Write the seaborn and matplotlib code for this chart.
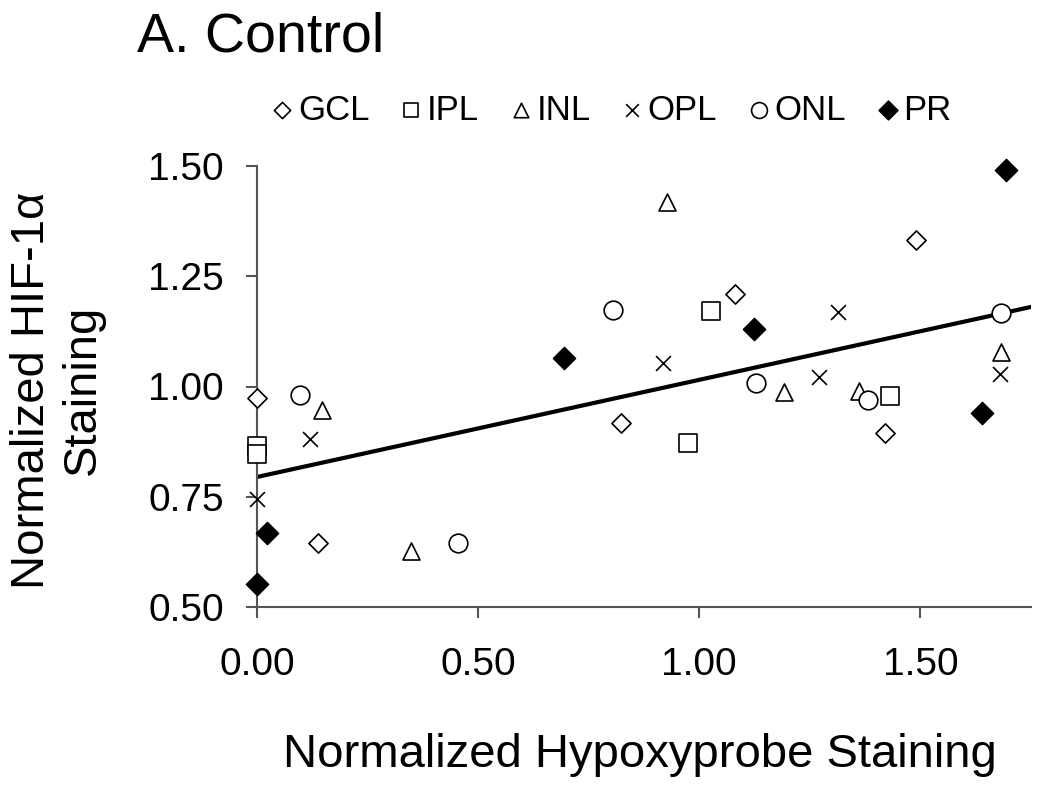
import matplotlib
matplotlib.use("Agg")
import matplotlib.pyplot as plt
import numpy as np
import pandas as pd
import seaborn as sns

# values, one list per retinal layer
layers = ["GCL", "IPL", "INL", "OPL", "ONL", "PR"]
gcl_x = [0.0, 0.137, 0.823, 1.081, 1.489, 1.421]
gcl_y = [0.973, 0.644, 0.917, 1.210, 1.332, 0.894]
ipl_x = [0.0, 0.0, 0.974, 1.027, 1.431]
ipl_y = [0.864, 0.846, 0.873, 1.171, 0.979]
inl_x = [0.146, 0.348, 0.927, 1.191, 1.362, 1.683]
inl_y = [0.947, 0.628, 1.419, 0.988, 0.990, 1.079]
opl_x = [0.0, 0.120, 0.919, 1.271, 1.313, 1.681]
opl_y = [0.746, 0.881, 1.053, 1.022, 1.170, 1.028]
onl_x = [0.097, 0.454, 0.805, 1.129, 1.382, 1.683]
onl_y = [0.981, 0.644, 1.173, 1.007, 0.969, 1.167]
pr_x = [0.0, 0.023, 0.693, 1.123, 1.640, 1.694]
pr_y = [0.552, 0.668, 1.065, 1.131, 0.941, 1.491]

x_ticks = [0.0, 0.5, 1.0, 1.5]
y_ticks = [0.50, 0.75, 1.00, 1.25, 1.50]

xs = [gcl_x, ipl_x, inl_x, opl_x, onl_x, pr_x]
ys = [gcl_y, ipl_y, inl_y, opl_y, onl_y, pr_y]
df = pd.concat([pd.DataFrame({"x": a, "y": b, "layer": l}) for a, b, l in zip(xs, ys, layers)],
               ignore_index=True)

# marker style per layer: (marker, size pt^2, filled)
styles = {"GCL": ("D", 95, False), "IPL": ("s", 150, False), "INL": ("^", 150, False),
          "OPL": ("x", 115, False), "ONL": ("o", 180, False), "PR": ("D", 125, True)}

sns.set_style("white")
plt.rcParams["font.family"] = ["Liberation Sans", "DejaVu Sans"]
plt.rcParams["text.color"] = "black"
plt.rcParams["xtick.color"] = "black"
plt.rcParams["ytick.color"] = "black"

fig = plt.figure(figsize=(10.5, 7.96), dpi=100)
ax = fig.add_axes([257/1050, 1-607/796, 774/1050, 441/796])
ax.set_xlim(0, 1.75)
ax.set_ylim(0.5, 1.5)

handles = []
for l in layers:
    m, s, filled = styles[l]
    sub = df[df.layer == l]
    if m == "x":
        sns.scatterplot(x=sub.x, y=sub.y, marker=m, s=s, color="black", linewidth=1.2,
                        ax=ax, clip_on=False, zorder=3)
    else:
        sns.scatterplot(x=sub.x, y=sub.y, marker=m, s=s,
                        facecolor="black" if filled else "white",
                        edgecolor="black", linewidth=1.2, ax=ax, clip_on=False, zorder=3)
    handles.append(ax.collections[-1])

# trend line through all points
sns.regplot(data=df, x="x", y="y", scatter=False, ci=None, truncate=False,
            color="black", line_kws={"lw": 3, "zorder": 2}, ax=ax)
ax.set_xlim(0, 1.75)
ax.set_ylim(0.5, 1.5)

for sp in ["top", "right"]:
    ax.spines[sp].set_visible(False)
for sp in ["left", "bottom"]:
    ax.spines[sp].set_color("#555555")
    ax.spines[sp].set_linewidth(1.5)

ax.set_xticks(x_ticks)
ax.set_yticks(y_ticks)
ax.set_xticklabels([f"{v:.2f}" for v in x_ticks])
ax.set_yticklabels([f"{v:.2f}" for v in y_ticks])
ax.tick_params(axis="both", direction="out", length=8, width=1.5, color="#555555",
               labelsize=28, labelcolor="black", bottom=True, left=True)
ax.tick_params(axis="x", pad=21)
ax.tick_params(axis="y", pad=16)
ax.set_xlabel("")
ax.set_ylabel("")

fig.text(640/1050, 1 - 767/796, "Normalized Hypoxyprobe Staining",
         ha="center", va="baseline", fontsize=34)
fig.text(10/1050, 1 - 390/796, "Normalized HIF-1\u03b1\nStaining", rotation=90,
         ha="left", va="center", fontsize=34, linespacing=1.2, multialignment="center")
fig.text(137/1050, 1 - 52/796, "A. Control", ha="left", va="baseline", fontsize=40)

fig.legend(handles, layers, loc="center left", bbox_to_anchor=(272/1050, 1 - 110/796),
           ncol=6, frameon=False, fontsize=25, markerscale=0.85, handlelength=0.6,
           handletextpad=0.15, columnspacing=0.9, borderaxespad=0, borderpad=0)

fig.savefig("out.png", dpi=100)
